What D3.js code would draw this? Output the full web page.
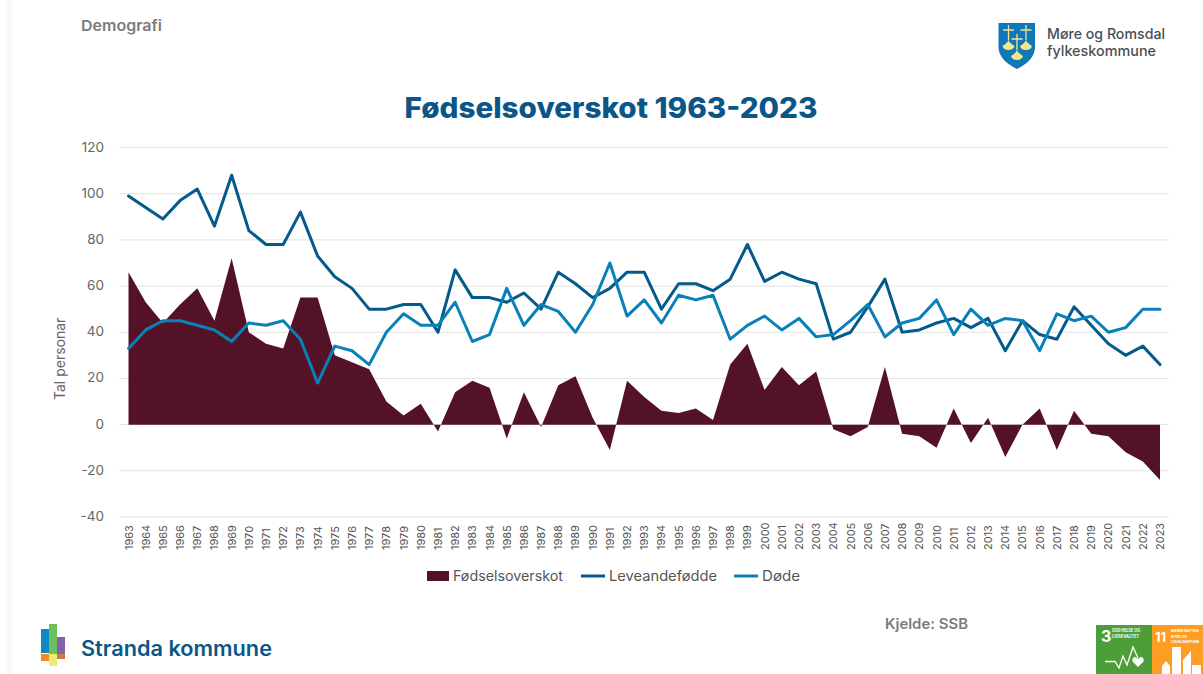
<!DOCTYPE html>
<html><head><meta charset="utf-8">
<script src="https://cdn.jsdelivr.net/npm/d3@7/dist/d3.min.js"></script>
<style>html,body{margin:0;padding:0;background:#fff;overflow:hidden}svg{display:block}text{font-family:Inter,"Open Sans",sans-serif}</style>
</head><body><svg id="c" width="1203" height="674"></svg>
<script>
const years = d3.range(1963, 2024);
const overskot = [66,53,44,52,59,45,72,40,35,33,55,55,30,27,24,10,4,9,-3,14,19,16,-6,14,-1,17,21,3,-11,19,12,6,5,7,2,26,35,15,25,17,23,-2,-5,-1,25,-4,-5,-10,7,-8,3,-14,0,7,-11,6,-4,-5,-12,-16,-24];
const leveande = [99,94,89,97,102,86,108,84,78,78,92,73,64,59,50,50,52,52,40,67,55,55,53,57,50,66,61,55,59,66,66,50,61,61,58,63,78,62,66,63,61,37,40,51,63,40,41,44,46,42,46,32,45,39,37,51,43,35,30,34,26];
const dode = [33,41,45,45,43,41,36,44,43,45,37,18,34,32,26,40,48,43,43,53,36,39,59,43,52,49,40,52,70,47,54,44,56,54,56,37,43,47,41,46,38,39,45,52,38,44,46,54,39,50,43,46,45,32,48,45,47,40,42,50,50];
const yTicks = d3.range(-40, 121, 20);
const colors = {o:"#541226", l:"#045a8a", d:"#0a80b8"};

const svg = d3.select("#c");
svg.append("rect").attr("x",7).attr("y",0).attr("width",5).attr("height",674).attr("fill","#f8f8f8");

const x = d3.scalePoint().domain(years).range([128.5,1160]);
const y = d3.scaleLinear().domain([-40,120]).range([517,147.5]);

svg.append("g").selectAll("line").data(yTicks).join("line")
  .attr("x1",119).attr("x2",1169).attr("y1",d=>y(d)).attr("y2",d=>y(d))
  .attr("stroke","#e2e2e2").attr("stroke-width",1);

svg.append("g").selectAll("text").data(yTicks).join("text")
  .attr("x",104).attr("y",d=>y(d)+4).attr("text-anchor","end")
  .attr("font-size",13.5).attr("fill","#666").text(d=>d);

svg.append("g").selectAll("text").data(years).join("text")
  .attr("transform",d=>`translate(${x(d)+4},550) rotate(-90)`)
  .attr("font-size",11).attr("fill","#555").text(d=>d);

svg.append("path").datum(years.map((yr,i)=>[yr,overskot[i]]))
  .attr("fill",colors.o)
  .attr("d",d3.area().x(d=>x(d[0])).y0(y(0)).y1(d=>y(d[1])));

const line = d3.line().x(d=>x(d[0])).y(d=>y(d[1]));
[[leveande,colors.l],[dode,colors.d]].forEach(([vals,c])=>{
  svg.append("path").datum(years.map((yr,i)=>[yr,vals[i]]))
    .attr("fill","none").attr("stroke",c).attr("stroke-width",3)
    .attr("stroke-linejoin","round").attr("stroke-linecap","round").attr("d",line);
});

svg.append("text").attr("transform","translate(65,400) rotate(-90)")
  .attr("font-size",14).attr("fill","#666").text("Tal personar");

svg.append("text").attr("x",611).attr("y",118).attr("text-anchor","middle")
  .attr("font-size",28).attr("font-weight",800).attr("fill","#0b5688")
  .attr("textLength",413).attr("lengthAdjust","spacingAndGlyphs").text("Fødselsoverskot 1963-2023");

svg.append("text").attr("x",81).attr("y",31).attr("font-size",15).attr("font-weight",600).attr("fill","#7b7b7b")
  .attr("textLength",81).attr("lengthAdjust","spacingAndGlyphs").text("Demografi");
svg.append("text").attr("x",885).attr("y",629).attr("font-size",14.5).attr("font-weight",600).attr("fill","#7b7b7b")
  .attr("textLength",83).attr("lengthAdjust","spacingAndGlyphs").text("Kjelde: SSB");

const lg = svg.append("g");
lg.append("rect").attr("x",427).attr("y",571).attr("width",22).attr("height",10).attr("fill",colors.o);
lg.append("line").attr("x1",581).attr("x2",605).attr("y1",576).attr("y2",576).attr("stroke",colors.l).attr("stroke-width",3);
lg.append("line").attr("x1",734).attr("x2",758).attr("y1",576).attr("y2",576).attr("stroke",colors.d).attr("stroke-width",3);
[["Fødselsoverskot",453,110],["Leveandefødde",609,108],["Døde",762,38]].forEach(([t,px,w])=>{
  lg.append("text").attr("x",px).attr("y",581).attr("font-size",14).attr("fill","#555")
    .attr("textLength",w).attr("lengthAdjust","spacingAndGlyphs").text(t);
});

[[41,629,8,24,"#0b8bc6"],[49,624,8,30,"#6cbf5a"],[57,637,8,17,"#7f63ad"],[41,654,8,7,"#f58a1f"],[49,654,8,12,"#e6ee74"],[57,654,8,5,"#cf7a45"]]
 .forEach(([a,b,w,h,f])=>svg.append("rect").attr("x",a).attr("y",b).attr("width",w).attr("height",h).attr("fill",f));
svg.append("text").attr("x",81).attr("y",656).attr("font-size",21).attr("font-weight",600).attr("fill","#0b5688")
  .attr("textLength",191).attr("lengthAdjust","spacingAndGlyphs").text("Stranda kommune");

svg.append("path").attr("d","M998.5,23 H1035 V47 Q1035,60 1017,69 Q998.5,60 998.5,47 Z").attr("fill","#1077b8");
[[1008.5,25,15],[1026,25,15],[1017,34,16]].forEach(([cx,top,h])=>{
  const by = top+h;
  svg.append("path").attr("d",`M${cx},${top} V${by} M${cx-5.5},${top+5} H${cx+5.5}`).attr("stroke","#f3e58a").attr("stroke-width",1.3).attr("fill","none");
  svg.append("path").attr("d",`M${cx},${by} Q${cx+1},${by+3} ${cx+6},${by+6} Q${cx+5},${by+10} ${cx},${by+10} Q${cx-5},${by+10} ${cx-6},${by+6} Q${cx-1},${by+3} ${cx},${by} Z`).attr("fill","#f3e58a");
});
svg.append("text").attr("x",1047).attr("y",39).attr("font-size",14.5).attr("font-weight",500).attr("fill","#4a4f55")
  .attr("textLength",118).attr("lengthAdjust","spacingAndGlyphs").text("Møre og Romsdal");
svg.append("text").attr("x",1047).attr("y",56).attr("font-size",14.5).attr("font-weight",500).attr("fill","#4a4f55")
  .attr("textLength",109).attr("lengthAdjust","spacingAndGlyphs").text("fylkeskommune");

svg.append("rect").attr("x",1096).attr("y",625).attr("width",56).attr("height",49).attr("fill","#4c9f38");
svg.append("rect").attr("x",1152).attr("y",625).attr("width",51).attr("height",49).attr("fill","#fd9d24");
svg.append("text").attr("x",1101).attr("y",642).attr("font-size",16).attr("font-weight",700).attr("fill","#fff").text("3");
svg.append("text").attr("x",1155).attr("y",642).attr("font-size",13).attr("font-weight",700).attr("fill","#fff").text("11");
[["GOD HELSE OG",1112,632,28,4.2],["LIVSKVALITET",1112,638,27,4.2],["BÆREKRAFTIGE",1171,632,28,3.6],["BYER OG",1171,638,16,3.6],["LOKALSAMFUNN",1171,643,28,3.6]].forEach(([t,a,b,w,s])=>{
  svg.append("text").attr("x",a).attr("y",b).attr("font-size",s).attr("font-weight",700).attr("fill","#fff")
    .attr("textLength",w).attr("lengthAdjust","spacingAndGlyphs").text(t);
});
svg.append("path").attr("d","M1105,661.5 H1115 L1119,668 L1123,656 L1127,665 L1133,647 L1138,658").attr("fill","none").attr("stroke","#fff").attr("stroke-width",1.3);
svg.append("path").attr("d","M1138,667 L1132.5,661.5 Q1131.5,657 1135.5,657 L1138,659 L1140.5,657 Q1144.5,657 1143.5,661.5 Z").attr("fill","#fff");
svg.append("path").attr("d","M1162,674 V666 L1166,661 L1170,666 V674 Z M1172,674 V647 H1181 V674 Z M1183,674 V660 L1191,651 V674 Z M1192,674 V665 H1201 V674 Z").attr("fill","#fff");
</script></body></html>
